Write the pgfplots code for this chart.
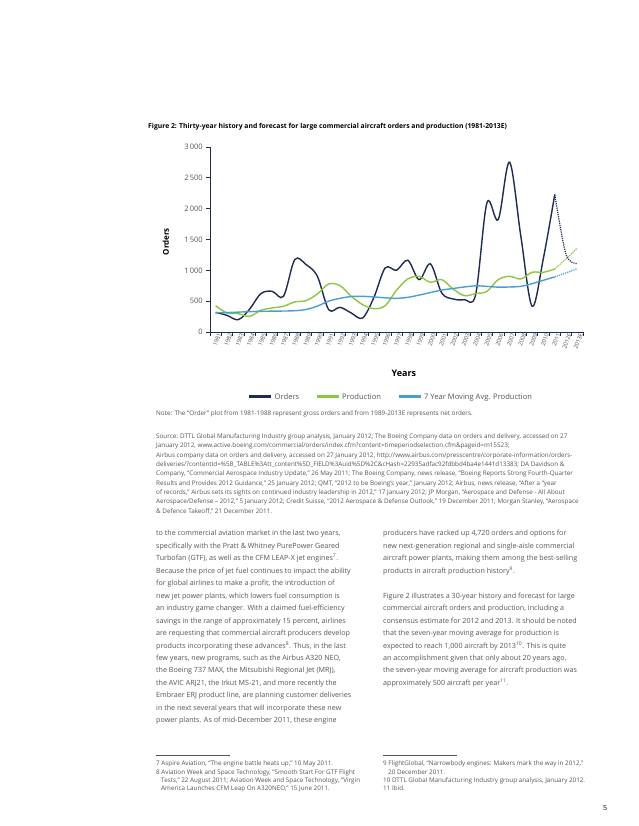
\documentclass[border=0pt]{standalone}
\usepackage{fontspec}
\setmainfont{Open Sans}
\usepackage{pgfplots}
\pgfplotsset{compat=1.18}
\definecolor{ord}{HTML}{1F2B50}
\definecolor{prod}{HTML}{8DC63F}
\definecolor{mavg}{HTML}{4A9ED6}
\definecolor{txt}{HTML}{555555}
\definecolor{axc}{HTML}{1F2B50}
\newcommand\T[3]{\node[anchor=base west,inner sep=0pt] at (#1,#2) {#3};}
\begin{document}
\begin{tikzpicture}[x=1pt,y=1pt]
\fill[white] (0,0) rectangle (638,826);
\path[use as bounding box] (0,0) rectangle (638,826);
\begin{axis}[
  at={(210pt,494pt)}, anchor=south west, scale only axis,
  width=373pt, height=185pt,
  xmin=-0.5, xmax=32.5, ymin=0, ymax=3000,
  axis lines*=left,
  axis line style={axc, line width=0.8pt},
  tick style={axc, line width=0.7pt},
  tick align=outside, major tick length=3.8pt,
  xtick={-0.5,0.5,...,32.5}, xticklabels={},
  extra x ticks={0,1,...,32},
  extra x tick labels={1981,1982,1983,1984,1985,1986,1987,1988,1989,1990,1991,1992,1993,1994,1995,1996,1997,1998,1999,2000,2001,2002,2003,2004,2005,2006,2007,2008,2009,2010,2011,2012E,2013E},
  extra x tick style={major tick length=0pt},
  xticklabel style={rotate=70, anchor=east, font=\fontsize{5.8}{6.5}\selectfont, text=txt, yshift=-4pt, inner sep=0pt},
  ytick={0,500,...,3000},
  yticklabel style={font=\fontsize{7.5}{8}\selectfont, text=txt},
  /pgf/number format/.cd, 1000 sep={\,}, assume math mode=true,
  /pgfplots/.cd,
  ylabel={Orders},
  ylabel style={at={(axis description cs:-0.118,0.488)}, anchor=center, font=\fontsize{8}{9}\selectfont\bfseries, text=black},
  xlabel={Years},
  xlabel style={at={(axis description cs:0.52,-0.223)}, anchor=center, font=\fontsize{9}{10}\selectfont\bfseries, text=black},
  legend columns=3,
  legend style={at={(0.485,-0.351)}, anchor=center, draw=none, fill=none,
    font=\fontsize{7.6}{9}\selectfont, text=txt,
    /tikz/every even column/.append style={column sep=14pt}},
  legend image code/.code={\draw[#1, line width=3pt, solid] (0pt,0pt) -- (22pt,0pt);},
]
\addplot[ord, line width=1.4pt, smooth, tension=0.55] table {
0 319
1 270
2 200
3 370
4 622
5 660
6 579
7 1174
8 1093
9 903
10 362
11 400
12 308
13 227
14 560
15 1039
16 1001
17 1163
18 849
19 1104
20 633
21 536
22 525
23 606
24 2094
25 1823
26 2754
27 1553
28 417
29 1200
30 2229
};
\addlegendentry{Orders}
\addplot[prod, line width=1.4pt, smooth, tension=0.55] table {
0 427
1 308
2 298
3 254
4 352
5 390
6 417
7 487
8 509
9 617
10 779
11 752
12 579
13 444
14 379
15 427
16 676
17 860
18 903
19 806
20 849
21 698
22 590
23 622
24 660
25 849
26 903
27 860
28 968
29 968
30 1022
};
\addlegendentry{Production}
\addplot[mavg, line width=1.4pt, smooth, tension=0.55] table {
0 310
1 315
2 322
3 330
4 335
5 338
6 340
7 345
8 365
9 420
10 500
11 546
12 575
13 578
14 568
15 554
16 546
17 562
18 598
19 640
20 680
21 705
22 730
23 748
24 740
25 727
26 730
27 740
28 784
29 839
30 893
};
\addlegendentry{7 Year Moving Avg. Production}
\addplot[ord, line width=1.2pt, densely dotted, smooth, forget plot] table {
30 2229
31 1255
32 1109
};
\addplot[prod, line width=1.2pt, densely dotted, smooth, forget plot] table {
30 1022
31 1185
32 1363
};
\addplot[mavg, line width=1.2pt, densely dotted, smooth, forget plot] table {
30 893
31 958
32 1028
};
\end{axis}
\begin{scope}[yshift=826pt, y=-1pt]
\begin{scope}[every node/.style={font=\fontsize{6.8}{8}\selectfont\bfseries, text=black}]
\T{148}{129}{Figure 2: Thirty-year history and forecast for large commercial aircraft orders and production (1981-2013E)}
\end{scope}
\begin{scope}[every node/.style={font=\fontsize{6.35}{7}\selectfont, text=txt}]
\T{156}{416}{Note: The “Order” plot from 1981-1988 represent gross orders and from 1989-2013E represents net orders.}
\end{scope}
\begin{scope}[every node/.style={font=\fontsize{6.3}{7}\selectfont, text=txt}]
\T{156}{438.4}{Source: DTTL Global Manufacturing Industry group analysis, January 2012; The Boeing Company data on orders and delivery, accessed on 27}
\T{156}{447.75}{January 2012, www.active.boeing.com/commercial/orders/index.cfm?content=timeperiodselection.cfm\&pageid=m15523;}
\T{156}{457.1}{Airbus company data on orders and delivery, accessed on 27 January 2012, http://www.airbus.com/presscentre/corporate-information/orders-}
\T{156}{466.45}{deliveries/?contentId=\%5B\_TABLE\%3Att\_content\%5D\_FIELD\%3Auid\%5D\%2C\&cHash=22935adfac92fdbbd4ba4e1441d13383; DA Davidson \&}
\T{156}{475.8}{Company, “Commercial Aerospace Industry Update,” 26 May 2011; The Boeing Company, news release, “Boeing Reports Strong Fourth-Quarter}
\T{156}{485.15}{Results and Provides 2012 Guidance,” 25 January 2012; QMT, “2012 to be Boeing’s year,” January 2012; Airbus, news release, “After a “year}
\T{156}{494.5}{of records,” Airbus sets its sights on continued industry leadership in 2012,” 17 January 2012; JP Morgan, “Aerospace and Defense - All About}
\T{156}{503.85}{Aerospace/Defense – 2012,” 5 January 2012; Credit Suisse, “2012 Aerospace \& Defense Outlook,” 19 December 2011; Morgan Stanley, “Aerospace}
\T{156}{513.2}{\& Defence Takeoff,” 21 December 2011.}
\end{scope}
\begin{scope}[every node/.style={font=\fontsize{7.15}{8}\selectfont, text=txt}]
\T{156}{536}{to the commercial aviation market in the last two years,}
\T{156}{548.45}{specifically with the Pratt \& Whitney PurePower Geared}
\T{156}{560.9}{Turbofan (GTF), as well as the CFM LEAP-X jet engines\textsuperscript{7}.}
\T{156}{573.35}{Because the price of jet fuel continues to impact the ability}
\T{156}{585.8}{for global airlines to make a profit, the introduction of}
\T{156}{598.25}{new jet power plants, which lowers fuel consumption is}
\T{156}{610.7}{an industry game changer. With a claimed fuel-efficiency}
\T{156}{623.15}{savings in the range of approximately 15 percent, airlines}
\T{156}{635.6}{are requesting that commercial aircraft producers develop}
\T{156}{648.05}{products incorporating these advances\textsuperscript{8}. Thus, in the last}
\T{156}{660.5}{few years, new programs, such as the Airbus A320 NEO,}
\T{156}{672.95}{the Boeing 737 MAX, the Mitsubishi Regional Jet (MRJ),}
\T{156}{685.4}{the AVIC ARJ21, the Irkut MS-21, and more recently the}
\T{156}{697.85}{Embraer ERJ product line, are planning customer deliveries}
\T{156}{710.3}{in the next several years that will incorporate these new}
\T{156}{722.75}{power plants. As of mid-December 2011, these engine}
\T{383}{536}{producers have racked up 4,720 orders and options for}
\T{383}{548.45}{new next-generation regional and single-aisle commercial}
\T{383}{560.9}{aircraft power plants, making them among the best-selling}
\T{383}{573.35}{products in aircraft production history\textsuperscript{9}.}
\T{383}{598.25}{Figure 2 illustrates a 30-year history and forecast for large}
\T{383}{610.7}{commercial aircraft orders and production, including a}
\T{383}{623.15}{consensus estimate for 2012 and 2013. It should be noted}
\T{383}{635.6}{that the seven-year moving average for production is}
\T{383}{648.05}{expected to reach 1,000 aircraft by 2013\textsuperscript{10}. This is quite}
\T{383}{660.5}{an accomplishment given that only about 20 years ago,}
\T{383}{672.95}{the seven-year moving average for aircraft production was}
\T{383}{685.4}{approximately 500 aircraft per year\textsuperscript{11}.}
\end{scope}
\draw[txt, line width=0.7pt] (156,755) -- (230,755);
\draw[txt, line width=0.7pt] (383,755) -- (457,755);
\begin{scope}[every node/.style={font=\fontsize{6.3}{7}\selectfont, text=txt}]
\T{156}{766}{7 Aspire Aviation, “The engine battle heats up,” 10 May 2011.}
\T{156}{774.3}{8 Aviation Week and Space Technology, “Smooth Start For GTF Flight}
\T{161}{782.6}{Tests,” 22 August 2011; Aviation Week and Space Technology, “Virgin}
\T{161}{790.9}{America Launches CFM Leap On A320NEO,” 15 June 2011.}
\T{383}{766}{9 FlightGlobal, “Narrowbody engines: Makers mark the way in 2012,”}
\T{388}{774.3}{20 December 2011.}
\T{383}{782.6}{10 DTTL Global Manufacturing Industry group analysis, January 2012.}
\T{383}{790.9}{11 Ibid.}
\end{scope}
\begin{scope}[every node/.style={font=\fontsize{7}{8}\selectfont, text=black}]
\T{603}{811}{5}
\end{scope}
\end{scope}
\end{tikzpicture}
\end{document}
